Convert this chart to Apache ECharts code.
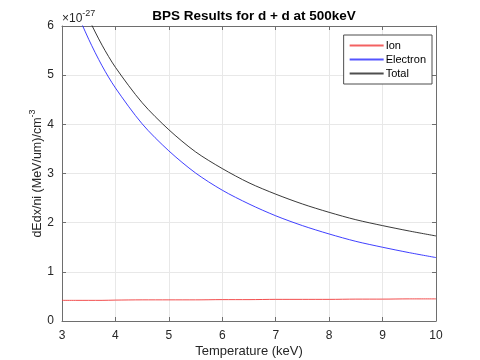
<!DOCTYPE html>
<html>
<head>
<meta charset="utf-8">
<script src="https://cdn.jsdelivr.net/npm/echarts@6/dist/echarts.min.js"></script>
<style>
  html, body { margin: 0; padding: 0; background: #fff; }
  #main { width: 480px; height: 360px; }
</style>
</head>
<body>
<div id="main"></div>
<script>
  // values (y in units of 1e-27)
  var temps = [3, 3.25, 3.5, 3.75, 4, 4.5, 5, 5.5, 6, 6.5, 7, 7.5, 8, 8.5, 9, 9.5, 10];
  var ion = [0.42, 0.42, 0.42, 0.42, 0.425, 0.43, 0.43, 0.43, 0.435, 0.435, 0.44, 0.44, 0.44, 0.445, 0.445, 0.45, 0.45];
  var electron = [7.13, 6.36, 5.73, 5.19, 4.74, 4.01, 3.46, 3.01, 2.66, 2.38, 2.14, 1.94, 1.77, 1.62, 1.50, 1.39, 1.29];
  var total = [7.55, 6.79, 6.15, 5.61, 5.16, 4.44, 3.89, 3.44, 3.10, 2.81, 2.58, 2.38, 2.21, 2.06, 1.94, 1.83, 1.73];
  var xTicks = [3, 4, 5, 6, 7, 8, 9, 10];
  var yTicks = [0, 1, 2, 3, 4, 5, 6];

  var font = 'Liberation Sans, Arial, sans-serif';
  var axisColor = '#6e6e6e';
  var textColor = '#262626';
  var colors = {Ion: '#f03a3a', Electron: '#2a2aff', Total: '#222'};

  function pairs (ys) {
    return temps.map(function (t, i) { return [t, ys[i]] })
  }

  var myChart = echarts.init(document.getElementById('main'), null, {renderer: 'canvas'});
  myChart.setOption({
    animation: false,
    textStyle: {fontFamily: font},
    title: {
      text: 'BPS Results for d + d at 500keV',
      left: 249,
      top: 4,
      textAlign: 'center',
      textStyle: {fontSize: 13.5, fontWeight: 'bold', color: '#000', fontFamily: font}
    },
    grid: {left: 62, right: 44, top: 26, bottom: 39, outerBoundsMode: 'none', containLabel: false},
    legend: {
      orient: 'vertical',
      right: 48,
      top: 35,
      padding: [5, 6, 5, 6],
      itemGap: 3,
      itemWidth: 34,
      itemHeight: 2,
      icon: 'rect',
      backgroundColor: '#fff',
      borderColor: '#4d4d4d',
      borderWidth: 1,
      textStyle: {fontSize: 11, color: '#000', fontFamily: font, padding: [0, 0, 0, -3]},
      data: ['Ion', 'Electron', 'Total'].map(function (n) {
        return {name: n, itemStyle: {color: colors[n], borderWidth: 0, opacity: 0.8}}
      })
    },
    graphic: [{
      type: 'text',
      left: 62,
      top: 9,
      style: {
        text: '{a|×10}{b|-27}',
        rich: {
          a: {fontSize: 12, fontFamily: font, fill: textColor, lineHeight: 16, verticalAlign: 'bottom'},
          b: {fontSize: 9, fontFamily: font, fill: textColor, verticalAlign: 'top'}
        }
      }
    }],
    xAxis: [{
      type: 'value',
      min: xTicks[0],
      max: xTicks[xTicks.length - 1],
      interval: 1,
      name: 'Temperature (keV)',
      nameLocation: 'middle',
      nameGap: 24,
      nameMoveOverlap: false,
      nameTextStyle: {fontSize: 13, color: textColor, fontFamily: font},
      axisLine: {onZero: false, lineStyle: {color: axisColor}},
      axisTick: {inside: true, length: 4, lineStyle: {color: axisColor}},
      axisLabel: {fontSize: 12, color: textColor, margin: 9, fontFamily: font},
      splitLine: {show: true, lineStyle: {color: '#e8e8e8'}}
    }, {
      type: 'value',
      position: 'top',
      min: 3,
      max: 10,
      interval: 1,
      axisLine: {show: true, onZero: false, lineStyle: {color: axisColor}},
      axisTick: {inside: true, length: 4, lineStyle: {color: axisColor}},
      axisLabel: {show: false},
      splitLine: {show: false}
    }],
    yAxis: [{
      type: 'value',
      min: yTicks[0],
      max: yTicks[yTicks.length - 1],
      interval: 1,
      name: '{a|dEdx/ni (MeV/um)/cm}{b|-3}',
      nameLocation: 'middle',
      nameGap: 18,
      nameMoveOverlap: false,
      nameTextStyle: {
        color: textColor,
        rich: {
          a: {fontSize: 12.5, fontFamily: font, color: textColor, lineHeight: 16, verticalAlign: 'bottom'},
          b: {fontSize: 9, fontFamily: font, color: textColor, verticalAlign: 'top'}
        }
      },
      axisLine: {show: true, onZero: false, lineStyle: {color: axisColor}},
      axisTick: {show: true, inside: true, length: 4, lineStyle: {color: axisColor}},
      axisLabel: {fontSize: 12, color: textColor, margin: 8, fontFamily: font},
      splitLine: {show: true, lineStyle: {color: '#e8e8e8'}}
    }, {
      type: 'value',
      position: 'right',
      min: 0,
      max: 6,
      interval: 1,
      axisLine: {show: true, onZero: false, lineStyle: {color: axisColor}},
      axisTick: {show: true, inside: true, length: 4, lineStyle: {color: axisColor}},
      axisLabel: {show: false},
      splitLine: {show: false}
    }],
    series: [
      {
        name: 'Ion',
        type: 'line',
        data: pairs(ion),
        showSymbol: false,
        symbol: 'none',
        smooth: 0.3,
        color: colors.Ion,
        lineStyle: {width: 0.9, color: colors.Ion}
      },
      {
        name: 'Electron',
        type: 'line',
        data: pairs(electron),
        showSymbol: false,
        symbol: 'none',
        smooth: 0.3,
        color: colors.Electron,
        lineStyle: {width: 0.9, color: colors.Electron}
      },
      {
        name: 'Total',
        type: 'line',
        data: pairs(total),
        showSymbol: false,
        symbol: 'none',
        smooth: 0.3,
        color: colors.Total,
        lineStyle: {width: 0.9, color: colors.Total}
      }
    ]
  });
</script>
</body>
</html>
